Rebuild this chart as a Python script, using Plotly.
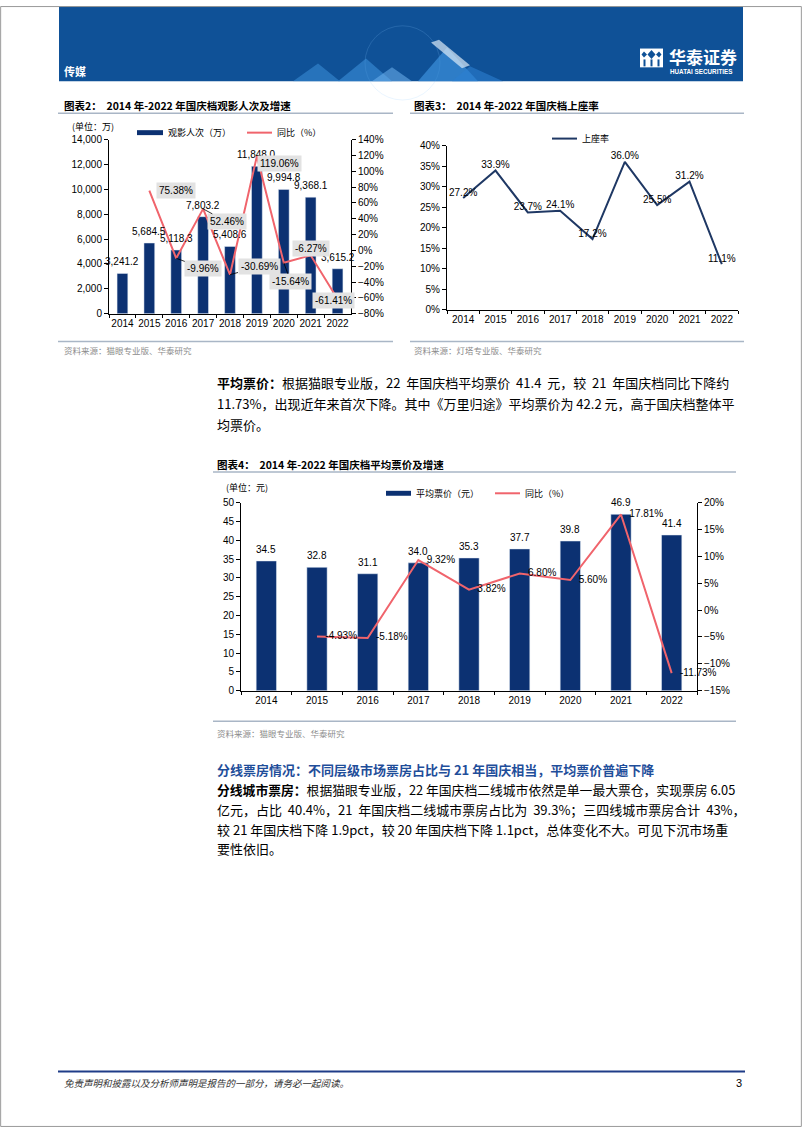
import plotly.graph_objects as go

W, H = 802, 1133
def X(px): return px / W
def Y(py): return 1 - py / H

# ---------------- data ----------------
years = ['2014', '2015', '2016', '2017', '2018', '2019', '2020', '2021', '2022']
admissions = [3241.2, 5684.5, 5118.3, 7803.2, 5408.6, 11848.0, 9994.8, 9368.1, 3615.2]
admissions_yoy = [None, 75.38, -9.96, 52.46, -30.69, 119.06, -15.64, -6.27, -61.41]
occupancy = [27.2, 33.9, 23.7, 24.1, 17.2, 36.0, 25.5, 31.2, 11.1]
avg_price = [34.5, 32.8, 31.1, 34.0, 35.3, 37.7, 39.8, 46.9, 41.4]
price_yoy = [None, -4.93, -5.18, 9.32, 3.82, 6.80, 5.60, 17.81, -11.73]

# label offsets (px) for chart 2 yoy boxes: (ax, ay, leader)
yoy_offsets = [None, (27, 0, False), (27, 10, True), (24, 13, True), (29, -8, True),
               (23, 7, False), (7, 19, True), (0, -7, False), (-4, 2, False)]

NAVY = '#0c3172'
RED = '#f0646c'
LINE3 = '#1f3864'
FONT = 'Liberation Sans, Arial, Noto Sans CJK SC'
CJK = 'Noto Sans CJK SC, Liberation Sans'
GRAYLINE = '#a9b6c6'

fig = go.Figure()

# chart 2
fig.add_trace(go.Bar(x=years, y=admissions, xaxis='x', yaxis='y', marker_color=NAVY,
                     width=0.4))
fig.add_trace(go.Scatter(x=years, y=admissions_yoy, xaxis='x', yaxis='y2', mode='lines',
                         line=dict(color=RED, width=2), cliponaxis=False))
# chart 3
fig.add_trace(go.Scatter(x=years, y=occupancy, xaxis='x2', yaxis='y3', mode='lines+text',
                         line=dict(color=LINE3, width=2), texttemplate='%{y:.1f}%',
                         textposition='top center', cliponaxis=False,
                         textfont=dict(size=10, color='black', family=FONT)))
# chart 4
fig.add_trace(go.Bar(x=years, y=avg_price, xaxis='x3', yaxis='y4', marker_color=NAVY,
                     width=0.4))
fig.add_trace(go.Scatter(x=years, y=price_yoy, xaxis='x3', yaxis='y5', mode='lines+text',
                         line=dict(color=RED, width=2),
                         texttemplate='&nbsp;&nbsp;&nbsp;%{y:.2f}%',
                         textposition='middle right', cliponaxis=False,
                         textfont=dict(size=10, color='black', family=FONT)))

ax_common = dict(showgrid=False, zeroline=False, showline=True, linecolor='black',
                 linewidth=1, ticks='outside', ticklen=4, tickcolor='black',
                 tickfont=dict(size=10, color='black', family=FONT))
xcat = dict(type='category', tickson='boundaries', ticklen=3, range=[-0.5, len(years) - 0.5],
            autorange=False, tickangle=0,
            **{k: v for k, v in ax_common.items() if k != 'ticklen'})

fig.update_layout(
    width=W, height=H, margin=dict(l=0, r=0, t=0, b=0),
    paper_bgcolor='white', plot_bgcolor='white', showlegend=False,
    xaxis=dict(domain=[X(109), X(351)], anchor='y', **xcat),
    yaxis=dict(domain=[Y(311), Y(135)], anchor='x', range=[0, 14000], dtick=2000,
               tickformat=',d', **ax_common),
    yaxis2=dict(overlaying='y', side='right', anchor='x', range=[-80, 140], dtick=20,
                ticksuffix='%', **ax_common),
    xaxis2=dict(domain=[X(447), X(738)], anchor='y3', **xcat),
    yaxis3=dict(domain=[Y(307), Y(141)], anchor='x2', range=[0, 40], dtick=5,
                ticksuffix='%', **ax_common),
    xaxis3=dict(domain=[X(241), X(697)], anchor='y4', **xcat),
    yaxis4=dict(domain=[Y(692), Y(502)], anchor='x3', range=[0, 50], dtick=5, **ax_common),
    yaxis5=dict(overlaying='y4', side='right', anchor='x3', range=[-15, 20], dtick=5,
                ticksuffix='%', **ax_common),
)

shapes = []
ann = []

def rect(x0, y0, x1, y1, fill, line=None, lw=0, opacity=1):
    shapes.append(dict(type='rect', xref='paper', yref='paper', x0=X(x0), x1=X(x1),
                       y0=Y(y1), y1=Y(y0), fillcolor=fill, opacity=opacity,
                       line=dict(color=line or fill, width=lw), layer='below'))

def hline(x0, x1, y, color, w):
    shapes.append(dict(type='line', xref='paper', yref='paper', x0=X(x0), x1=X(x1),
                       y0=Y(y), y1=Y(y), line=dict(color=color, width=w)))

def poly(pts, fill, opacity=1):
    path = 'M ' + ' L '.join(f'{X(a):.5f},{Y(b):.5f}' for a, b in pts) + ' Z'
    shapes.append(dict(type='path', xref='paper', yref='paper', path=path,
                       fillcolor=fill, opacity=opacity, line=dict(width=0)))

def text(x, y, s, size=13, color='black', family=CJK, anchor='left', yanchor='middle'):
    ann.append(dict(xref='paper', yref='paper', x=X(x), y=Y(y), text=s, showarrow=False,
                    xanchor=anchor, yanchor=yanchor,
                    font=dict(size=size, color=color, family=family)))

# page border
shapes.append(dict(type='rect', xref='paper', yref='paper', x0=0.0008, x1=0.9992, y0=0.0005,
                   y1=0.9995, line=dict(color='#9a9a9a', width=1), fillcolor='rgba(0,0,0,0)'))

# header
rect(59, 0, 743, 76, '#0f5197')
shapes.append(dict(type='circle', xref='paper', yref='paper', x0=X(365), x1=X(440),
                   y0=Y(95), y1=Y(20), line=dict(color='rgba(140,200,255,0.18)', width=1)))
poly([(293, 76), (318, 58), (340, 76)], '#3f95e0', 0.5)
poly([(338, 76), (366, 53), (392, 76)], '#3f95e0', 0.55)
poly([(372, 76), (392, 62), (412, 76)], '#6fb3ee', 0.55)
poly([(418, 76), (447, 42), (478, 76)], '#3f95e0', 0.65)
poly([(431, 37), (439, 34), (470, 60), (462, 63)], '#dbe9f7', 0.7)
poly([(452, 76), (470, 61), (503, 76)], '#2b7fd0', 0.6)
text(62, 66, '<b>传媒</b>', size=11, color='white')
# logo
rect(640, 43, 663, 62, 'white')
poly([(651.5, 44.5), (655.5, 49), (651.5, 53.5), (647.5, 49)], '#0f5197')
poly([(644, 46), (647, 49), (644, 52), (641.5, 49)], '#0f5197')
poly([(659, 46), (661.5, 49), (659, 52), (656, 49)], '#0f5197')
for xs in (643.5, 650.5, 657.5):
    rect(xs, 54, xs + 2, 61, '#0f5197')
text(667, 51, '<b>华泰证券</b>', size=17, color='white')
text(668, 66.5, '<b>HUATAI SECURITIES</b>', size=6.3, color='white', family=FONT)

# chart 2 header / footer
text(62, 101, '<b>图表2：  2014 年-2022 年国庆档观影人次及增速</b>', size=10.5)
hline(58, 393, 108.5, GRAYLINE, 1.5)
text(70, 122, '(单位：万)', size=9)
rect(137, 125.5, 163, 130.5, NAVY)
text(166, 128, '观影人次（万）', size=9)
hline(247, 272, 128, RED, 2)
text(275, 128, '同比（%）', size=9)
hline(58, 393, 339, GRAYLINE, 1.5)
text(62, 348, '资料来源：猫眼专业版、华泰研究', size=8.5, color='#8c8c8c')

# bar value labels
for i, v in enumerate(admissions):
    ann.append(dict(xref='x', yref='y', x=i, y=v, text=f'{v:,.1f}', showarrow=False,
                    yanchor='bottom', yshift=4,
                    font=dict(size=10, color='black', family=FONT)))
for i, v in enumerate(avg_price):
    ann.append(dict(xref='x3', yref='y4', x=i, y=v, text=f'{v:.1f}', showarrow=False,
                    yanchor='bottom', yshift=4,
                    font=dict(size=10, color='black', family=FONT)))

for i, v in enumerate(admissions_yoy):
    if v is None:
        continue
    axp, ayp, leader = yoy_offsets[i]
    ann.append(dict(xref='x', yref='y2', x=i, y=v, text=f'{v:.2f}%',
                    showarrow=True, ax=axp, ay=ayp, arrowhead=0, arrowwidth=0.8,
                    arrowcolor='black' if leader else 'rgba(0,0,0,0)',
                    bgcolor='#e2e2e2', borderpad=2,
                    font=dict(size=10, color='black', family=FONT)))

# chart 3
text(412, 101, '<b>图表3：  2014 年-2022 年国庆档上座率</b>', size=10.5)
hline(410, 744, 108.5, GRAYLINE, 1.5)
hline(552, 577, 134, LINE3, 2)
text(580, 134, '上座率', size=9)
hline(410, 744, 339, GRAYLINE, 1.5)
text(412, 348, '资料来源：灯塔专业版、华泰研究', size=8.5, color='#8c8c8c')

# paragraph 1
S = '&nbsp;'
text(215, 381, f'<b>平均票价：</b>根据猫眼专业版，22{S}{S}年国庆档平均票价{S}{S}41.4{S}{S}元，较{S}{S}21{S}{S}年国庆档同比下降约', size=13)
text(215, 402, '11.73%，出现近年来首次下降。其中《万里归途》平均票价为 42.2 元，高于国庆档整体平', size=13)
text(215, 423, '均票价。', size=13)

# chart 4
text(215, 463, '<b>图表4：  2014 年-2022 年国庆档平均票价及增速</b>', size=10.5)
hline(213, 736, 471, GRAYLINE, 1.5)
text(224, 487, '(单位：元)', size=9)
rect(386, 490, 411, 495, NAVY)
text(414, 492.5, '平均票价（元）', size=9)
hline(495, 520, 492.5, RED, 2)
text(523, 492.5, '同比（%）', size=9)
hline(213, 736, 723, GRAYLINE, 1.5)
text(215, 735, '资料来源：猫眼专业版、华泰研究', size=8.5, color='#8c8c8c')

# paragraph 2
text(215, 772, '<b>分线票房情况：不同层级市场票房占比与 21 年国庆相当，平均票价普遍下降</b>', size=13, color='#1f4e9a')
text(215, 792, '<b>分线城市票房：</b>根据猫眼专业版，22 年国庆档二线城市依然是单一最大票仓，实现票房 6.05', size=12.8)
text(215, 812, f'亿元，占比{S}{S}40.4%，21{S}{S}年国庆档二线城市票房占比为{S}{S}39.3%；三四线城市票房合计{S}{S}43%，', size=13)
text(215, 832, '较 21 年国庆档下降 1.9pct，较 20 年国庆档下降 1.1pct，总体变化不大。可见下沉市场重', size=13)
text(215, 852, '要性依旧。', size=13)

# footer
hline(58, 745, 1077, '#1f3c88', 2)
text(62, 1089, '<i>免责声明和披露以及分析师声明是报告的一部分，请务必一起阅读。</i>', size=9.5, color='#333333')
text(744, 1089, '3', size=11, family=FONT, anchor='right')

fig.update_layout(shapes=shapes, annotations=ann)
fig.write_html('out.html', config={'displayModeBar': False},
               post_script="document.body.style.margin='0';document.body.style.overflow='hidden';")
